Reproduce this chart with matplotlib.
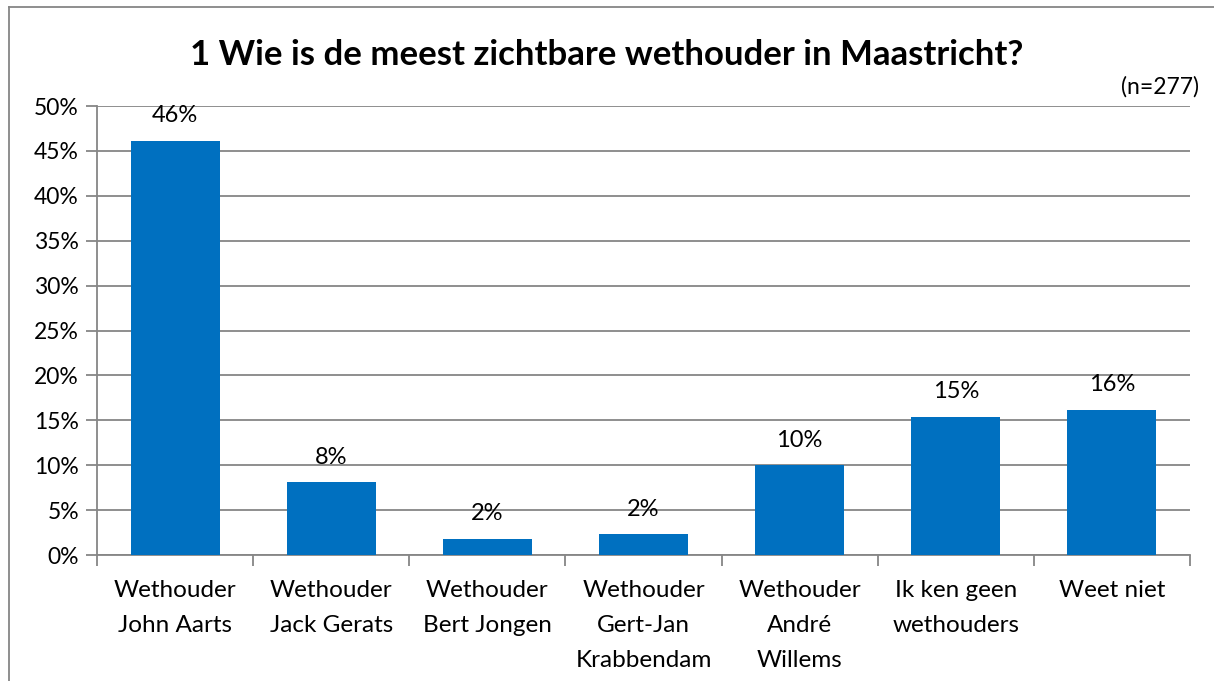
import numpy as np
import matplotlib.pyplot as plt
from matplotlib.lines import Line2D

categories = ["Wethouder\nJohn Aarts", "Wethouder\nJack Gerats", "Wethouder\nBert Jongen",
              "Wethouder\nGert-Jan\nKrabbendam", "Wethouder\nAndré\nWillems",
              "Ik ken geen\nwethouders", "Weet niet"]
values = [46.1, 8.1, 1.8, 2.3, 10.0, 15.4, 16.2]
labels = ["46%", "8%", "2%", "2%", "10%", "15%", "16%"]
yticks = [0, 5, 10, 15, 20, 25, 30, 35, 40, 45, 50]

plt.rcParams['font.family'] = ['Lato', 'DejaVu Sans']
grey = '#868686'

fig = plt.figure(figsize=(12.14, 6.81), dpi=100)
ax = fig.add_axes([0.0799, 0.185, 0.9003, 0.6593])

x = np.arange(len(categories))
ax.bar(x, values, width=0.57, color='#0070C0', zorder=3)
for xi, v, lab in zip(x, values, labels):
    ax.annotate(lab, (xi, v), xytext=(0, 10.5), textcoords='offset points',
                ha='center', va='bottom', fontsize=17)

ax.set_xlim(-0.5, len(categories) - 0.5)
ax.set_ylim(0, 50)
ax.set_yticks(yticks)
ax.set_yticklabels([f"{t}%" for t in yticks], fontsize=16.5)
ax.yaxis.grid(True, color=grey, linewidth=1.3, zorder=0)
ax.set_xticks(x)
ax.set_xticklabels(categories, fontsize=17.5, va='top', linespacing=1.82)
ax.set_xticks(np.arange(len(categories) + 1) - 0.5, minor=True)
ax.tick_params(axis='x', which='major', length=0, pad=18)
ax.tick_params(axis='x', which='minor', length=8, color=grey, width=1.3)
ax.tick_params(axis='y', length=8, color=grey, width=1.3, pad=5)

for s in ['top', 'right']:
    ax.spines[s].set_visible(False)
for s in ['left', 'bottom']:
    ax.spines[s].set_color(grey)
    ax.spines[s].set_linewidth(1.3)

fig.text(0.5, 0.919, "1 Wie is de meest zichtbare wethouder in Maastricht?",
         ha='center', va='center', fontsize=25, fontweight='bold')
fig.text(0.988, 0.872, "(n=277)", ha='right', va='center', fontsize=16.5)

# chart border (left and top edges visible)
bx, by = 9 / 1214, 1 - 7 / 681
fig.add_artist(Line2D([bx, bx], [0, by], transform=fig.transFigure, color=grey, linewidth=1.3))
fig.add_artist(Line2D([bx, 1], [by, by], transform=fig.transFigure, color=grey, linewidth=1.3))

fig.savefig("out.png", dpi=100)
